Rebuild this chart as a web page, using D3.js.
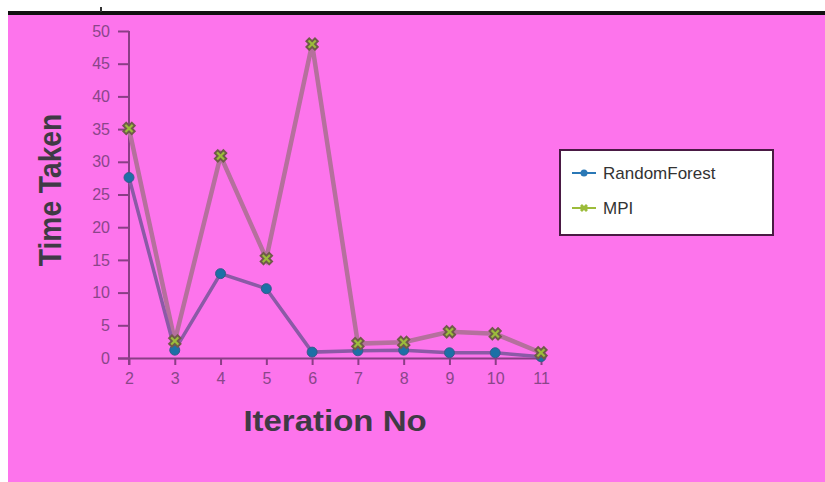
<!DOCTYPE html>
<html><head><meta charset="utf-8">
<script src="https://cdn.jsdelivr.net/npm/d3@7"></script>
<style>body{margin:0;background:#fff;} svg{display:block;}</style>
</head><body>
<script>
const iterations = [2,3,4,5,6,7,8,9,10,11];
const randomForest = [27.6,1.2,12.9,10.6,0.9,1.1,1.2,0.8,0.8,0.2];
const mpi = [35.1,2.6,30.9,15.2,48.0,2.2,2.4,4.0,3.7,0.8];
const yTicks = [0,5,10,15,20,25,30,35,40,45,50];
const seriesNames = ["RandomForest","MPI"];

const W=825,H=482;
const svg=d3.select("body").append("svg").attr("width",W).attr("height",H);
const defs=svg.append("defs");
defs.append("filter").attr("id","soft").append("feGaussianBlur").attr("stdDeviation",0.6);

svg.append("rect").attr("x",8).attr("y",14).attr("width",W-8).attr("height",H-14).attr("fill","#fd74ec");
svg.append("rect").attr("x",8).attr("y",11).attr("width",W-8).attr("height",4).attr("fill","#111");
svg.append("rect").attr("x",100).attr("y",7).attr("width",2).attr("height",5).attr("fill","#333");

const x=d3.scaleLinear().domain([2,11]).range([129,541]);
const y=d3.scaleLinear().domain([0,50]).range([358,31]);
const axisColor="#8a3e86";

const gy=svg.append("g").attr("transform","translate(129,0)")
  .call(d3.axisLeft(y).tickValues(yTicks).tickSize(11).tickPadding(8));
const gx=svg.append("g").attr("transform","translate(0,358)")
  .call(d3.axisBottom(x).tickValues(iterations).tickSize(7).tickPadding(8));
[gy,gx].forEach(g=>{
  g.select(".domain").attr("stroke",axisColor).attr("stroke-width",2);
  g.selectAll(".tick line").attr("stroke",axisColor).attr("stroke-width",2);
  g.selectAll(".tick text").attr("fill","#8a468a").attr("font-family","Liberation Sans, Arial, sans-serif").attr("font-size",16);
});
gx.select(".domain").attr("d","M118,0.5H545");
gy.select(".domain").attr("d","M0,31V365");

svg.append("text").attr("transform","translate(61,190) rotate(-90) scale(0.88,1)").attr("text-anchor","middle")
  .attr("font-family","Liberation Sans, Arial, sans-serif").attr("font-weight","bold")
  .attr("font-size",32).attr("fill","#3f3a45").text("Time Taken");
svg.append("text").attr("transform","translate(335,431) scale(1.1,1)").attr("text-anchor","middle")
  .attr("font-family","Liberation Sans, Arial, sans-serif").attr("font-weight","bold")
  .attr("font-size",30).attr("fill","#3f3a45").text("Iteration No");

const line=d3.line().x((d,i)=>x(iterations[i])).y(d=>y(d));
svg.append("path").datum(mpi).attr("d",line).attr("fill","none").attr("stroke","#b5709d").attr("stroke-width",4.5).attr("filter","url(#soft)");
svg.append("path").datum(randomForest).attr("d",line).attr("fill","none").attr("stroke","#8b5aa6").attr("stroke-width",3.5).attr("filter","url(#soft)");

svg.append("g").selectAll("circle").data(randomForest).join("circle")
  .attr("cx",(d,i)=>x(iterations[i])).attr("cy",d=>y(d)).attr("r",5)
  .attr("fill","#1b6fa6").attr("stroke","#3a5a8a").attr("stroke-width",1).attr("filter","url(#soft)");
const cross=d3.symbol().type(d3.symbolCross).size(80);
svg.append("g").selectAll("path").data(mpi).join("path")
  .attr("d",cross).attr("transform",(d,i)=>`translate(${x(iterations[i])},${y(d)}) rotate(45)`)
  .attr("fill","#9cbc3a").attr("stroke","#6f5a48").attr("stroke-width",2).attr("filter","url(#soft)");

// legend
const lg=svg.append("g");
lg.append("rect").attr("x",560).attr("y",150).attr("width",213).attr("height",85)
  .attr("fill","#fff").attr("stroke","#4a1a44").attr("stroke-width",2);
const legColors=["#2a78b6","#9cbc3a"];
const legY=[173,208];
seriesNames.forEach((n,i)=>{
  lg.append("line").attr("x1",572).attr("x2",596).attr("y1",legY[i]).attr("y2",legY[i]).attr("stroke",legColors[i]).attr("stroke-width",2);
  if(i===0) lg.append("circle").attr("cx",584).attr("cy",legY[i]).attr("r",3.5).attr("fill",legColors[i]);
  else lg.append("path").attr("d",d3.symbol().type(d3.symbolCross).size(40)).attr("transform",`translate(584,${legY[i]}) rotate(45)`).attr("fill",legColors[i]);
  lg.append("text").attr("x",603).attr("y",legY[i]+6).attr("font-family","Liberation Sans, Arial, sans-serif")
    .attr("font-size",17).attr("fill","#333").text(n);
});
</script>
</body></html>
